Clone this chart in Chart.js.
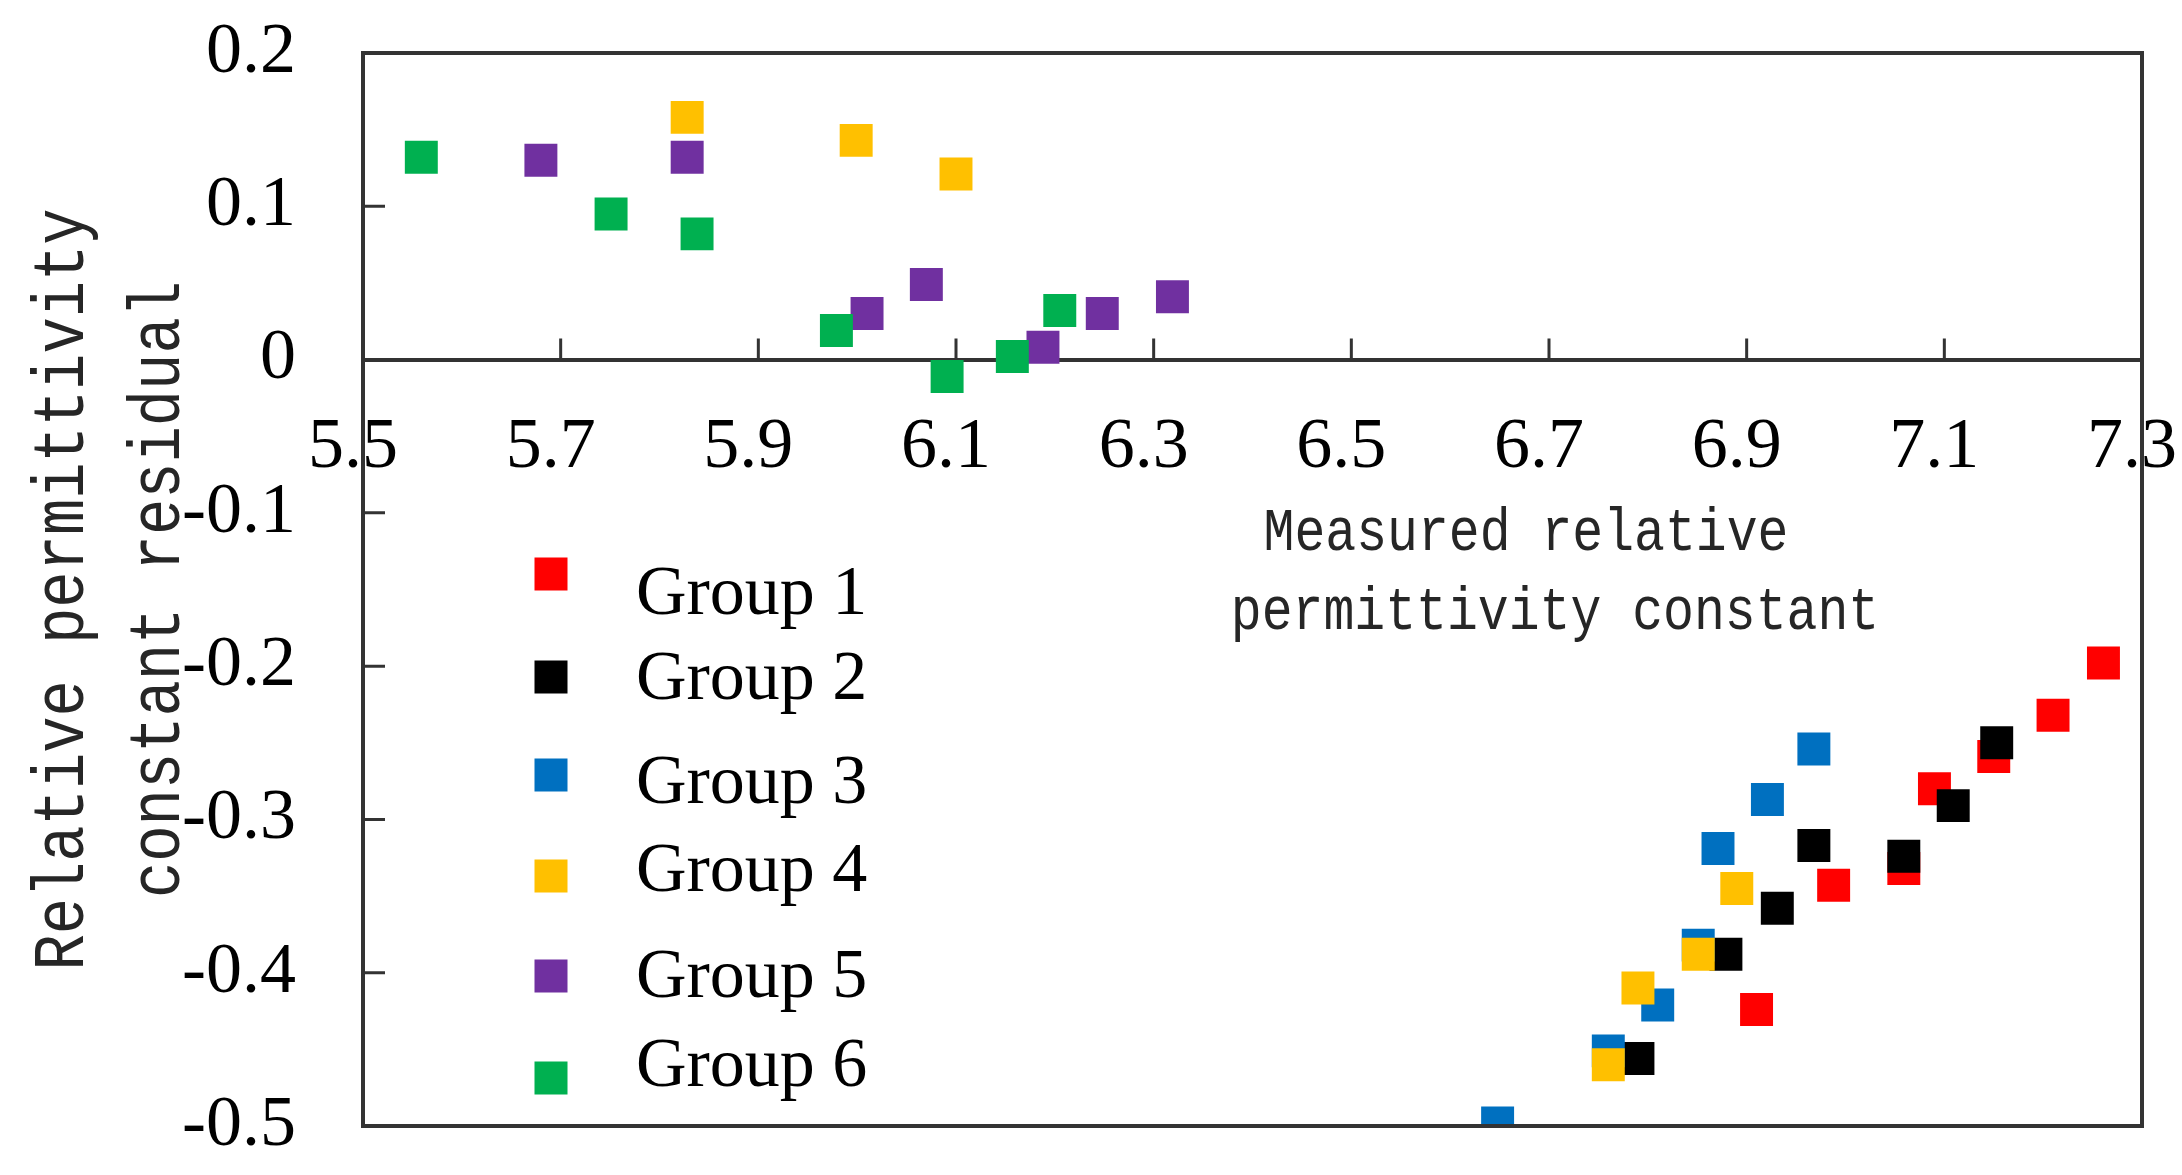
<!DOCTYPE html>
<html>
<head>
<meta charset="utf-8">
<script src="https://cdn.jsdelivr.net/npm/chart.js@4.4.1/dist/chart.umd.min.js"></script>
<style>
    html, body { margin: 0; padding: 0; background: #fff; }
    canvas { display: block; }
</style>
</head>
<body>
<canvas id="graph" width="2182" height="1175"></canvas>
<script>
// values
const groupNames = ['Group 1', 'Group 2', 'Group 3', 'Group 4', 'Group 5', 'Group 6'];
const groupColors = ['#FF0000', '#000000', '#0070C0', '#FFC000', '#7030A0', '#00B050'];

const group1X = [6.910, 6.988, 7.059, 7.090, 7.150, 7.210, 7.261];
const group1Y = [-0.424, -0.343, -0.332, -0.280, -0.259, -0.232, -0.198];
const group2X = [6.790, 6.879, 6.931, 6.968, 7.059, 7.109, 7.153];
const group2Y = [-0.456, -0.388, -0.358, -0.317, -0.324, -0.291, -0.250];
const group3X = [6.648, 6.760, 6.810, 6.851, 6.871, 6.921, 6.968];
const group3Y = [-0.498, -0.451, -0.421, -0.382, -0.319, -0.287, -0.254];
const group4X = [5.828, 5.999, 6.100, 6.760, 6.790, 6.851, 6.890];
const group4Y = [0.158, 0.143, 0.121, -0.460, -0.410, -0.388, -0.345];
const group5X = [5.680, 5.828, 6.010, 6.070, 6.188, 6.248, 6.319];
const group5Y = [0.130, 0.132, 0.030, 0.049, 0.008, 0.030, 0.041];
const group6X = [5.559, 5.751, 5.838, 5.979, 6.091, 6.157, 6.205];
const group6Y = [0.132, 0.095, 0.082, 0.019, -0.011, 0.002, 0.032];

const xTicks = [5.5, 5.7, 5.9, 6.1, 6.3, 6.5, 6.7, 6.9, 7.1, 7.3];
const xTickLabels = ['5.5', '5.7', '5.9', '6.1', '6.3', '6.5', '6.7', '6.9', '7.1', '7.3'];
const yTicks = [-0.5, -0.4, -0.3, -0.2, -0.1, 0, 0.1, 0.2];
const yTickLabels = ['-0.5', '-0.4', '-0.3', '-0.2', '-0.1', '0', '0.1', '0.2'];

const xTitle = ['Measured relative', 'permittivity constant'];
const yTitle = ['Relative permittivity', 'constant residual'];

const groupsX = [group1X, group2X, group3X, group4X, group5X, group6X];
const groupsY = [group1Y, group2Y, group3Y, group4Y, group5Y, group6Y];

function toPoints(xs, ys) {
    let points = [];
    xs.forEach((x, i) => {
        points.push({x: x, y: ys[i]});
    });
    return points;
}

// frame, inward tick marks, axis titles and the legend
const decorations = {
    id: 'decorations',
    afterDraw(chart) {
        const ctx = chart.ctx;
        const area = chart.chartArea;
        const xs = chart.scales.x;
        const ys = chart.scales.y;
        ctx.save();
        ctx.strokeStyle = '#333';
        ctx.lineWidth = 4;
        ctx.strokeRect(area.left, area.top, area.right - area.left, area.bottom - area.top);

        ctx.lineWidth = 3;
        const zeroY = ys.getPixelForValue(0);
        ctx.beginPath();
        xTicks.slice(1, -1).forEach(v => {
            const px = xs.getPixelForValue(v);
            ctx.moveTo(px, zeroY);
            ctx.lineTo(px, zeroY - 21);
        });
        yTicks.slice(1, -1).forEach(v => {
            const py = ys.getPixelForValue(v);
            ctx.moveTo(area.left, py);
            ctx.lineTo(area.left + 22, py);
        });
        ctx.stroke();

        ctx.fillStyle = '#262626';
        ctx.textAlign = 'center';
        ctx.textBaseline = 'alphabetic';
        ctx.font = '62px "Liberation Mono"';
        const xLines = [[1526, 550], [1555, 629]];
        xTitle.forEach((line, i) => {
            ctx.save();
            ctx.translate(xLines[i][0], xLines[i][1]);
            ctx.scale(0.83, 1);
            ctx.fillText(line, 0, 0);
            ctx.restore();
        });
        ctx.font = '72px "Liberation Mono"';
        const yLines = [83, 179];
        yTitle.forEach((line, i) => {
            ctx.save();
            ctx.translate(yLines[i], (area.top + area.bottom) / 2);
            ctx.rotate(-Math.PI / 2);
            ctx.scale(0.84, 1);
            ctx.fillText(line, 0, 0);
            ctx.restore();
        });

        const boxY = [574, 677, 775, 876, 976, 1078];
        const textY = [596, 681, 785, 873, 979, 1068];
        ctx.font = '70px "Liberation Serif"';
        ctx.textAlign = 'left';
        ctx.textBaseline = 'middle';
        chart.data.datasets.forEach((ds, i) => {
            ctx.fillStyle = ds.backgroundColor;
            ctx.fillRect(551 - 16.5, boxY[i] - 16.5, 33, 33);
            ctx.fillStyle = '#000';
            ctx.fillText(ds.label, 636, textY[i]);
        });
        ctx.restore();
    }
};

const chart = new Chart(
    document.getElementById('graph'),
    {
        type: 'scatter',
        data: {
            datasets: groupNames.map((name, i) => ({
                label: name,
                data: toPoints(groupsX[i], groupsY[i]),
                backgroundColor: groupColors[i],
                borderWidth: 0,
                pointStyle: 'rect',
                pointRadius: 23.3,
                pointHoverRadius: 23.3,
                order: groupNames.length - i
            }))
        },
        options: {
            responsive: false,
            devicePixelRatio: 1,
            animation: false,
            events: [],
            layout: {padding: {left: 0, top: 53, right: 40, bottom: 49}},
            plugins: {
                legend: {display: false},
                tooltip: {enabled: false}
            },
            scales: {
                x: {
                    type: 'linear',
                    min: 5.5,
                    max: 7.3,
                    position: {y: 0},
                    afterBuildTicks: (s) => { s.ticks = xTicks.map(v => ({value: v})); },
                    afterFit: (s) => { s.paddingLeft = 0; s.paddingRight = 0; },
                    ticks: {
                        autoSkip: false,
                        maxRotation: 0,
                        padding: 45,
                        labelOffset: -10,
                        color: '#000',
                        font: {family: 'Liberation Serif', size: 72},
                        callback: (v) => xTickLabels[xTicks.indexOf(v)]
                    },
                    grid: {drawOnChartArea: false, drawTicks: false},
                    border: {display: true, color: '#333', width: 4}
                },
                y: {
                    type: 'linear',
                    min: -0.5,
                    max: 0.2,
                    afterBuildTicks: (s) => { s.ticks = yTicks.map(v => ({value: v})); },
                    afterFit: (s) => { s.width = 363; s.paddingTop = 0; s.paddingBottom = 0; },
                    ticks: {
                        autoSkip: false,
                        padding: 67,
                        color: '#000',
                        font: {family: 'Liberation Serif', size: 72},
                        callback: (v) => yTickLabels[yTicks.indexOf(v)]
                    },
                    grid: {drawOnChartArea: false, drawTicks: false},
                    border: {display: false}
                }
            }
        },
        plugins: [decorations]
    }
);
</script>
</body>
</html>
